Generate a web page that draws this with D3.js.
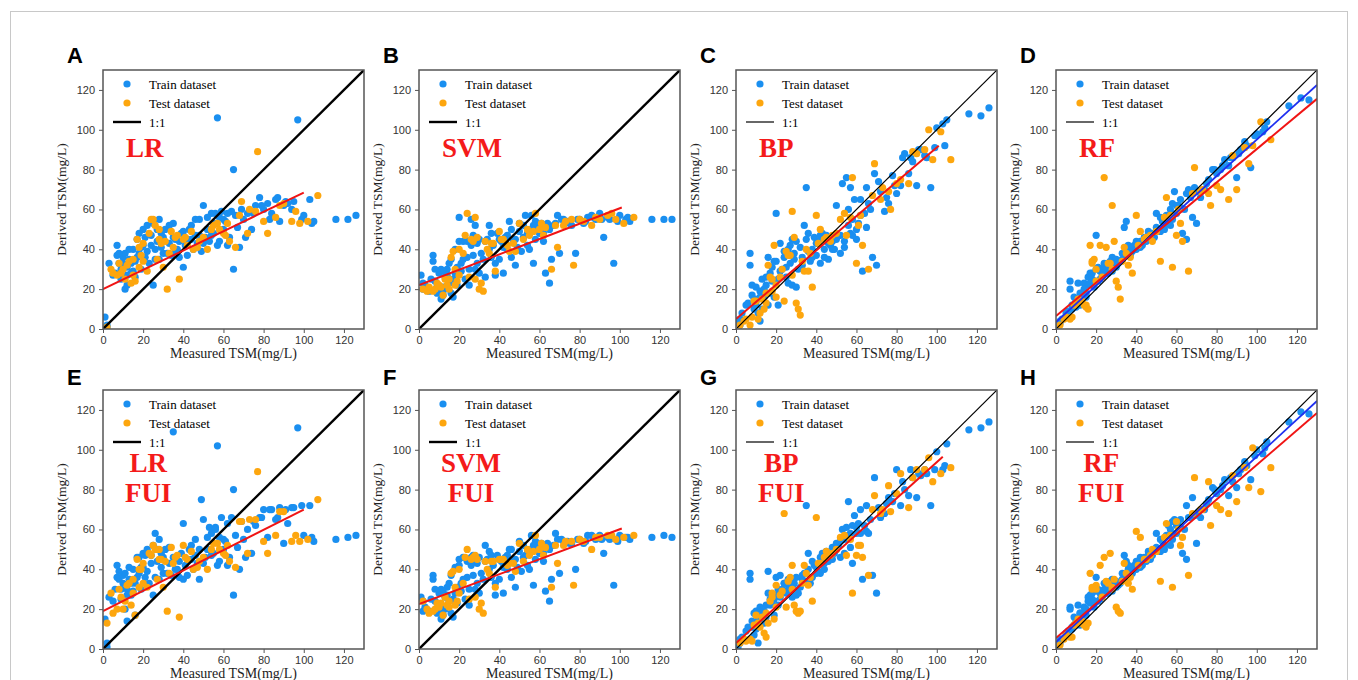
<!DOCTYPE html>
<html>
<head>
<meta charset="utf-8">
<script src="https://cdn.jsdelivr.net/npm/d3@7"></script>
<style>
  body { margin: 0; background: #fff; }
  svg { display: block; }
</style>
</head>
<body>
<svg id="chart" width="1358" height="680"></svg>
<script>
// measured TSM, same samples in every panel
const trainX = [
  1, 2, 2, 5, 7, 7, 8, 9, 10, 11,
  11, 12, 12, 13, 14, 15, 16, 16, 17, 18,
  19, 20, 20, 21, 22, 23, 24, 25, 26, 27,
  28, 28, 29, 30, 31, 33, 34, 35, 36, 37,
  38, 39, 40, 41, 42, 43, 44, 45, 46, 47,
  48, 49, 50, 51, 52, 53, 54, 55, 56, 57,
  57, 58, 59, 60, 61, 62, 63, 65, 65, 66,
  68, 69, 70, 72, 74, 76, 78, 80, 82, 84,
  86, 88, 90, 92, 95, 97, 100, 103, 105, 116,
  122, 126,
  3, 6, 8, 9, 10, 12, 13, 14, 15, 17,
  18, 19, 21, 22, 24, 25, 26, 27, 29, 30,
  32, 33, 35, 36, 38, 40, 42, 44, 46, 48,
  50, 52, 54, 56, 58, 60, 62, 64, 67, 71,
  75, 79, 83, 87, 91, 94, 99, 104
];
const testX = [
  2, 5, 7, 8, 10, 11, 12, 14, 15, 16,
  17, 18, 19, 20, 22, 24, 25, 27, 28, 29,
  30, 31, 32, 34, 36, 38, 40, 42, 45, 48,
  52, 55, 58, 60, 62, 63, 66, 69, 72, 76,
  77, 82, 86, 90, 96, 98, 102, 107,
  4, 9, 13, 15, 18, 20, 23, 26, 28, 33,
  35, 37, 41, 44, 47, 50, 54, 57, 61, 68,
  73, 80, 88, 94
];

// derived TSM per model
const lrTrain = [6,1,2,27,42,37,33,30,36,20, 38,31,22,35,28,40,34,26,45,38, 30,50,42,36,52,33,47,22,40,44,
  55,35,48,38,50,43,37,53,45,40, 36,48,31,42,37,50,45,40,55,43, 47,39,62,46,50,44,58,48,53,106,
  42,56,59,50,54,58,46,80,30,57, 41,60,55,58,50,62,66,60,63,58, 65,54,62,63,64,105,57,65,54,55, 55,57,
  33,28,38,25,33,27,40,33,29,36, 48,41,46,39,42,53,35,50,41,46, 38,52,46,39,44,49,45,52,47,55,
  43,56,47,58,44,55,42,59,51,46, 58,62,55,66,64,60,55,53];
const lrTest = [1,28,27,33,30,25,32,23,35,24, 45,31,37,43,29,55,55,35,50,43, 31,44,20,49,46,25,45,42,40,44,
  40,52,50,48,53,44,41,64,48,59, 89,48,56,63,59,53,54,67,
  30,28,34,27,41,34,48,52,45,38, 41,47,46,49,41,46,50,53,47,57, 60,54,62,54];

const svmTrain = [27,23,20,19,37,34,24,18,28,15, 30,21,17,26,30,23,35,18,16,28, 22,56,44,33,44,25,36,22,55,47,
  52,30,43,28,38,26,45,52,36,42, 27,48,35,44,28,46,40,54,36,44, 32,41,53,39,46,57,48,40,57,33,
  52,45,50,48,53,44,28,23,50,35, 53,57,38,55,54,52,38,55,53,56, 57,55,58,46,55,33,57,55,54,55, 55,55,
  22,25,30,21,19,29,20,27,33,25, 40,31,29,35,44,30,42,37,33,45, 35,44,40,48,33,45,41,47,50,45,
  49,52,42,50,54,52,48,53,52,55, 53,55,54,56,55,56,54,56];
const svmTest = [20,21,19,20,22,21,17,22,25,36, 39,30,24,40,38,58,26,44,56,46, 20,23,19,40,43,29,49,45,39,39,
  45,47,58,50,47,51,30,41,52,55, 32,54,52,55,58,55,53,56,
  19,23,25,20,22,27,47,45,25,44, 38,43,45,42,43,53,50,49,53,52, 54,55,56,57];

const bpTrain = [3,2,5,12,38,32,17,10,21,8, 15,4,19,25,16,22,36,12,28,24, 16,58,34,12,43,30,36,26,40,33,
  45,22,38,21,30,36,52,71,48,34, 40,46,37,44,33,48,40,47,35,42, 44,40,62,47,38,73,44,76,60,48,
  71,55,65,45,53,57,29,71,51,63, 36,78,32,69,59,63,77,68,72,88, 78,84,72,90,86,71,101,103,105,108, 107,111,
  8,13,22,15,12,16,10,20,26,18, 31,34,25,29,39,31,23,42,35,44, 41,32,45,39,36,43,47,36,43,40,
  45,47,41,52,47,50,65,58,60,74, 66,72,86,86,90,87,91,92];
const bpTest = [2,5,2,6,14,5,8,10,13,32, 26,19,42,16,26,14,39,37,59,46, 13,10,7,29,29,21,57,50,46,47,
  55,47,76,33,57,42,30,83,65,69, 60,75,73,88,100,85,99,85,
  4,14,15,18,25,22,30,37,27,34, 40,38,43,45,44,48,58,56,52,67, 71,73,89,90];

const rfTrain = [2,3,4,8,24,20,10,12,14,23, 13,15,12,17,23,18,26,22,28,25, 21,47,30,24,29,27,31,28,33,30,
  36,29,34,31,33,35,51,54,40,37, 39,42,40,43,44,42,46,44,47,45, 48,46,58,50,49,54,52,57,55,60,
  52,63,69,58,62,61,48,45,68,70, 56,71,53,66,70,75,80,78,80,85, 82,86,76,90,92,81,98,99,104,112, 116,115,
  5,9,12,16,11,18,15,20,16,23, 28,24,31,25,33,30,28,34,32,35, 34,38,37,42,41,44,41,45,49,47,
  51,56,50,57,55,62,65,60,66,69, 73,80,82,86,88,94,97,101];
const rfTest = [2,6,5,6,13,15,14,12,11,10, 42,34,35,24,42,76,41,33,62,44, 24,21,15,41,32,28,57,49,46,44,
  34,66,31,47,53,44,29,81,69,68, 62,70,65,70,83,92,104,95,
  5,12,14,12,33,30,26,33,30,34, 38,36,42,45,47,49,56,57,60,68, 70,72,87,91];

const lrFuiTrain = [15,1,3,24,42,36,35,30,37,20, 38,30,14,35,27,40,33,17,46,38, 30,48,41,36,50,33,47,27,58,44,
  55,35,48,38,50,43,37,109,45,40, 36,48,63,42,37,50,45,40,55,43, 35,75,65,46,50,61,58,48,61,102,
  42,56,66,50,54,63,46,80,27,57, 40,64,55,60,48,62,66,70,56,70, 65,71,53,63,71,111,57,72,54,55, 56,57,
  26,30,39,25,33,27,41,33,29,36, 46,41,47,39,43,52,36,50,41,46, 38,51,46,40,44,35,45,52,47,50,
  43,56,47,60,44,55,42,66,51,46, 64,66,70,66,70,71,72,56];
const lrFuiTest = [13,18,20,30,20,24,32,22,35,17, 45,31,40,43,31,47,52,35,50,45, 31,44,19,51,46,16,52,45,40,44,
  40,53,50,48,52,44,41,64,48,65, 89,48,57,69,57,54,55,75,
  28,26,33,28,40,33,48,50,45,38, 43,47,46,49,41,46,50,53,47,64, 65,54,69,54];

const svmFuiTrain = [26,24,19,19,37,35,24,18,28,15, 30,21,17,26,31,24,37,18,16,28, 23,45,42,33,46,25,36,22,46,47,
  44,30,43,28,38,52,45,49,36,42, 27,47,35,44,28,46,40,50,36,44, 31,41,54,39,46,47,48,40,57,32,
  52,45,50,48,53,44,29,24,50,35, 58,55,38,54,54,53,40,55,53,57, 57,55,57,48,55,32,57,56,55,56, 57,56,
  21,25,30,20,19,29,20,27,33,25, 41,31,29,35,44,30,42,37,33,46, 35,44,40,47,33,45,41,47,50,45,
  49,52,42,50,54,52,48,53,52,55, 53,55,54,56,55,56,54,56];
const svmFuiTest = [24,18,19,20,21,23,17,22,24,38, 39,31,24,40,33,50,25,46,47,45, 20,23,18,40,44,31,45,45,43,39,
  44,47,57,50,47,51,31,43,52,54, 32,54,50,56,57,55,56,57,
  20,23,26,21,22,28,46,45,26,44, 38,44,45,42,43,53,50,49,53,52, 54,55,56,57];

const bpFuiTrain = [1,3,5,9,38,35,11,7,19,3, 15,14,20,17,13,22,39,28,25,23, 17,36,27,22,37,30,33,28,32,30,
  34,26,30,27,28,35,38,72,48,33, 36,42,41,39,38,48,40,49,44,46, 51,48,53,52,46,60,55,61,74,58,
  51,43,67,61,63,58,35,72,59,58, 37,86,28,66,68,76,74,90,72,80, 77,86,76,87,88,72,99,90,103,110, 111,114,
  6,11,14,18,10,21,13,19,16,22, 27,25,30,26,33,29,35,31,33,36, 31,37,34,40,44,38,46,43,47,45,
  50,54,48,57,62,58,70,62,65,71, 73,78,84,90,88,90,90,92];
const bpFuiTest = [3,4,5,4,17,13,11,8,6,13, 24,28,15,32,27,68,21,36,42,22, 19,18,19,42,32,24,66,43,49,48,
  56,47,28,47,52,46,37,77,68,82, 69,88,71,90,96,84,88,91,
  5,12,16,18,26,21,29,34,30,33, 38,36,43,46,47,50,57,55,52,70, 70,78,86,90];

const rfFuiTrain = [2,3,5,8,21,20,10,12,14,22, 13,18,12,17,18,20,26,24,27,25, 21,36,29,24,28,27,30,28,32,30,
  35,29,33,31,32,35,47,44,40,37, 38,42,40,43,46,42,46,44,47,45, 48,50,58,50,49,54,52,57,62,60,
  52,64,65,58,62,61,48,45,72,66, 76,67,53,66,70,75,81,78,80,85, 77,84,81,90,92,85,100,98,104,114, 119,118,
  5,9,11,16,12,18,15,21,17,23, 28,24,30,25,33,30,28,34,31,34, 33,38,36,42,40,44,41,45,49,47,
  51,55,50,57,55,62,65,60,66,69, 73,80,82,86,88,94,97,101];
const rfFuiTest = [2,7,6,6,13,15,13,12,11,13, 38,30,31,32,42,46,34,48,30,35, 21,19,18,43,33,30,59,56,45,50,
  34,63,31,64,52,56,37,86,70,84, 62,70,68,74,81,101,79,91,
  5,12,14,12,31,30,26,33,31,34, 38,36,42,45,47,49,56,57,60,68, 70,72,87,91];

const panelLetters = ["A", "B", "C", "D", "E", "F", "G", "H"];
const modelNames = [["LR"], ["SVM"], ["BP"], ["RF"], ["LR", "FUI"], ["SVM", "FUI"], ["BP", "FUI"], ["RF", "FUI"]];
const trainSets = [lrTrain, svmTrain, bpTrain, rfTrain, lrFuiTrain, svmFuiTrain, bpFuiTrain, rfFuiTrain];
const testSets = [lrTest, svmTest, bpTest, rfTest, lrFuiTest, svmFuiTest, bpFuiTest, rfFuiTest];
// fitted lines [x0, y0, x1, y1]
const redFits = [[0, 20, 100, 68.5], [0, 22, 101, 61], [0, 5, 101, 92], [0, 6.5, 130, 115.5],
                 [0, 19, 100, 70], [0, 22.5, 101, 60.5], [0, 3, 103, 96.5], [0, 5.5, 130, 118.5]];
const blueFits = [null, null, null, [0, 3.5, 130, 122.5], null, null, null, [0, 3.5, 130, 124.5]];
const ticks = [0, 20, 40, 60, 80, 100, 120];

const TRAIN = "#1a8ff0", TEST = "#fda60e";
const colLeft = [103, 419, 736, 1056];
const rowTop = [70, 390];
const W = 261, H = 259;

const svg = d3.select("#chart");

// light frame around the figure
svg.append("rect").attr("x", 10.5).attr("y", 11.5).attr("width", 1337).attr("height", 700)
  .attr("fill", "none").attr("stroke", "#c8c8c8");

panelLetters.forEach((letter, i) => {
  const left = colLeft[i % 4], top = rowTop[Math.floor(i / 4)];
  const thin = (i % 4) >= 2;
  const g = svg.append("g").attr("transform", `translate(${left},${top})`);
  const x = d3.scaleLinear().domain([0, 130]).range([0, W]);
  const y = d3.scaleLinear().domain([0, 130]).range([H, 0]);

  g.append("clipPath").attr("id", "clip" + i)
    .append("rect").attr("width", W).attr("height", H);
  const plot = g.append("g").attr("clip-path", `url(#clip${i})`);

  plot.selectAll("circle.train").data(trainX.map((v, k) => [v, trainSets[i][k]]))
    .enter().append("circle").attr("class", "train")
    .attr("cx", d => x(d[0])).attr("cy", d => y(d[1])).attr("r", 3.6).attr("fill", TRAIN);
  plot.selectAll("circle.test").data(testX.map((v, k) => [v, testSets[i][k]]))
    .enter().append("circle").attr("class", "test")
    .attr("cx", d => x(d[0])).attr("cy", d => y(d[1])).attr("r", 3.6).attr("fill", TEST);

  plot.append("line").attr("x1", x(0)).attr("y1", y(0)).attr("x2", x(130)).attr("y2", y(130))
    .attr("stroke", "#000").attr("stroke-width", thin ? 1.2 : 2.4);
  if (blueFits[i]) {
    const b = blueFits[i];
    plot.append("line").attr("x1", x(b[0])).attr("y1", y(b[1])).attr("x2", x(b[2])).attr("y2", y(b[3]))
      .attr("stroke", "#1f2ff0").attr("stroke-width", 1.8);
  }
  const r = redFits[i];
  plot.append("line").attr("x1", x(r[0])).attr("y1", y(r[1])).attr("x2", x(r[2])).attr("y2", y(r[3]))
    .attr("stroke", "#f01414").attr("stroke-width", 2);

  // axes
  const xAxis = g.append("g").attr("transform", `translate(0,${H})`)
    .call(d3.axisBottom(x).tickValues(ticks).tickSize(4).tickPadding(3));
  const yAxis = g.append("g").call(d3.axisLeft(y).tickValues(ticks).tickSize(4).tickPadding(4));
  [xAxis, yAxis].forEach(a => {
    a.select(".domain").remove();
    a.selectAll("line").attr("stroke", "#555");
    a.selectAll("text").attr("fill", "#333").style("font-family", "Liberation Sans, Arial, sans-serif").style("font-size", "11px");
  });
  g.append("rect").attr("width", W).attr("height", H).attr("fill", "none")
    .attr("stroke", "#555").attr("stroke-width", 1.5);

  // legend
  const lg = g.append("g").style("font-family", "Liberation Serif, Times New Roman, serif").style("font-size", "13px");
  lg.append("circle").attr("cx", 24).attr("cy", 14).attr("r", 3.6).attr("fill", TRAIN);
  lg.append("text").attr("x", 46).attr("y", 18.5).text("Train dataset");
  lg.append("circle").attr("cx", 24).attr("cy", 33).attr("r", 3.6).attr("fill", TEST);
  lg.append("text").attr("x", 46).attr("y", 37.5).text("Test dataset");
  lg.append("line").attr("x1", 10).attr("x2", 38).attr("y1", 52).attr("y2", 52)
    .attr("stroke", "#000").attr("stroke-width", thin ? 1.2 : 2.4);
  lg.append("text").attr("x", 46).attr("y", 56.5).text("1:1");

  // model name
  const names = modelNames[i];
  const mt = g.append("g").style("font-family", "Liberation Serif, Times New Roman, serif")
    .style("font-size", "27px").style("font-weight", "bold").attr("fill", "#f41a1a");
  if (names.length === 1) {
    mt.append("text").attr("x", 23).attr("y", 87).text(names[0]);
  } else {
    const ts = names.map((n, k) => mt.append("text").attr("y", 82 + k * 30).attr("text-anchor", "middle").text(n));
    const maxW = d3.max(ts, t => t.node().getComputedTextLength());
    ts.forEach(t => t.attr("x", 22 + maxW / 2));
  }

  // axis titles
  g.append("text").attr("transform", `translate(-37,${H / 2}) rotate(-90)`)
    .attr("text-anchor", "middle").style("font-family", "Liberation Serif, Times New Roman, serif")
    .style("font-size", "13.5px").attr("fill", "#222").text("Derived TSM(mg/L)");
  g.append("text").attr("x", W / 2).attr("y", H + 29).attr("text-anchor", "middle")
    .style("font-family", "Liberation Serif, Times New Roman, serif")
    .style("font-size", "14px").attr("fill", "#222").text("Measured TSM(mg/L)");

  // panel letter
  svg.append("text").attr("x", left - 36).attr("y", top - (i < 4 ? 7 : 5))
    .style("font-family", "Liberation Sans, Arial, sans-serif").style("font-weight", "bold")
    .style("font-size", "22px").attr("fill", "#000").text(letter);
});
</script>
</body>
</html>
